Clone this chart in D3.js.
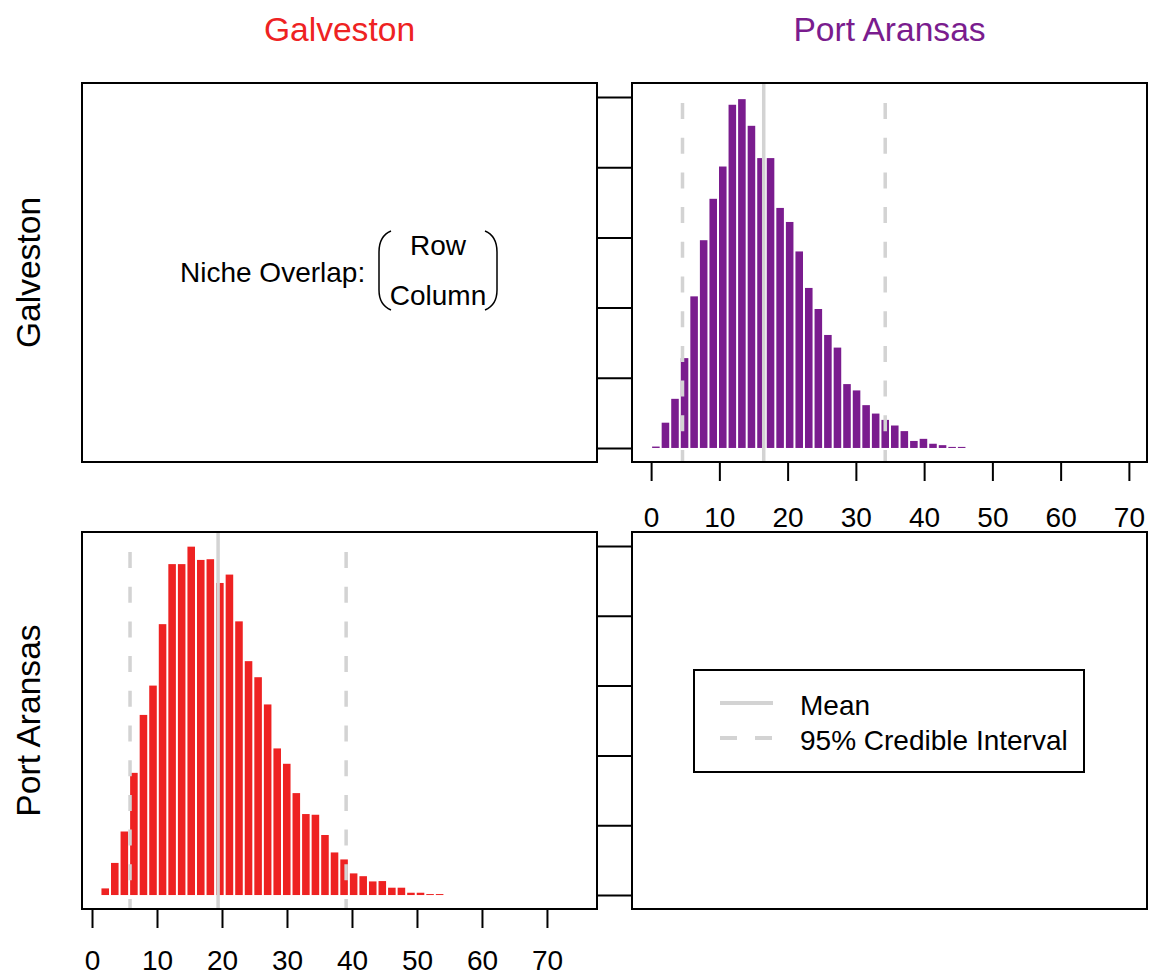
<!DOCTYPE html>
<html>
<head>
<meta charset="utf-8">
<script src="https://cdn.jsdelivr.net/npm/d3@7"></script>
<style>
  body { margin: 0; background: #fff; }
  text { font-family: "Liberation Sans", Arial, sans-serif; }
</style>
</head>
<body>
<svg id="chart" width="1155" height="975"></svg>
<script>
// data
const siteNames = ['Galveston', 'Port Aransas'];
const xTicks = [0, 10, 20, 30, 40, 50, 60, 70];
const yTicks = [0, 100, 200, 300, 400, 500];
const legendLabels = ['Mean', '95% Credible Interval'];

// Galveston row / Port Aransas column (top right, purple)
const paBreakStart = 0;
const paBinWidth = 1.4;
const paCounts = [2, 36, 70, 128, 216, 296, 355, 401, 489, 497, 459, 413, 413,
  342, 322, 280, 228, 198, 161, 143, 91, 82, 61, 49, 40, 32, 24, 10, 13, 6, 4, 1.5, 1.5];
const paMean = 16.5;
const paInterval = [4.6, 34.3];

// Port Aransas row / Galveston column (bottom left, red)
const gvBreakStart = 1.3;
const gvBinWidth = 1.47;
const gvCounts = [9.5, 46, 91, 175, 258, 300, 388, 474, 474, 499, 480, 481, 447,
  459, 392, 335, 312, 273, 210, 188, 146, 116, 115, 86, 61, 51, 31, 27, 19.5, 20,
  10.5, 10.5, 3.3, 3.3, 1.4, 1.4];
const gvMean = 19.4;
const gvInterval = [5.85, 39.1];

const colors = {
  'galveston': '#ee2222',
  'aransas': '#7a1c8e',
  'line': '#d3d3d3'
};

let svg = d3.select('#chart');

// panels
let panels = {
  topLeft: {x0: 82, x1: 597, y0: 83, y1: 462},
  topRight: {x0: 632, x1: 1147, y0: 83, y1: 462},
  bottomLeft: {x0: 82, x1: 597, y0: 532, y1: 909},
  bottomRight: {x0: 632, x1: 1147, y0: 532, y1: 909}
};

let xTR = d3.scaleLinear().domain([-2.8, 72.8]).range([panels.topRight.x0, panels.topRight.x1 + 1]);
let yTR = d3.scaleLinear().domain([-20, 520]).range([panels.topRight.y1, panels.topRight.y0]);
let xBL = d3.scaleLinear().domain([-1.54, 77.7]).range([panels.bottomLeft.x0, panels.bottomLeft.x1]);
let yBL = d3.scaleLinear().domain([-20, 520]).range([panels.bottomLeft.y1, panels.bottomLeft.y0]);

function makeHist(counts, start, width) {
  return counts.map(function(c, i) {
    return {x0: start + i * width, x1: start + (i + 1) * width, count: c};
  });
}

function drawHist(bins, x, y, color) {
  svg.append('g').selectAll('rect')
    .data(bins)
    .enter().append('rect')
      .attr('x', function(d) { return x(d.x0) + 1; })
      .attr('width', function(d) { return x(d.x1) - x(d.x0) - 2; })
      .attr('y', function(d) { return y(d.count); })
      .attr('height', function(d) { return y(0) - y(d.count); })
      .attr('fill', color);
}

function drawLines(p, x, mean, interval) {
  svg.append('line')
    .attr('x1', x(mean)).attr('x2', x(mean))
    .attr('y1', p.y0).attr('y2', p.y1)
    .attr('stroke', colors['line'])
    .attr('stroke-width', 3.5);
  for (let v of interval) {
    svg.append('line')
      .attr('x1', x(v)).attr('x2', x(v))
      .attr('y1', p.y0 + 20).attr('y2', p.y1)
      .attr('stroke', colors['line'])
      .attr('stroke-width', 3.5)
      .attr('stroke-dasharray', '16,18.7');
  }
}

function drawXAxis(p, x, pad) {
  let ax = svg.append('g')
    .attr('transform', 'translate(0,' + (p.y1 + 1) + ')')
    .call(d3.axisBottom(x).tickValues(xTicks).tickSize(18).tickPadding(pad).tickFormat(d3.format('d')));
  ax.select('.domain').remove();
  ax.selectAll('line').attr('stroke', '#000').attr('stroke-width', 2);
  ax.selectAll('text').attr('font-size', 28).attr('fill', '#000')
    .style('font-family', '"Liberation Sans", Arial, sans-serif');
}

function drawYTicks(p, y) {
  let ax = svg.append('g')
    .attr('transform', 'translate(' + p.x0 + ',0)')
    .call(d3.axisLeft(y).tickValues(yTicks).tickSize(p.x0 - panels.topLeft.x1).tickFormat(''));
  ax.select('.domain').remove();
  ax.selectAll('line').attr('stroke', '#000').attr('stroke-width', 2);
}

// histograms
drawHist(makeHist(paCounts, paBreakStart, paBinWidth), xTR, yTR, colors['aransas']);
drawLines(panels.topRight, xTR, paMean, paInterval);
drawHist(makeHist(gvCounts, gvBreakStart, gvBinWidth), xBL, yBL, colors['galveston']);
drawLines(panels.bottomLeft, xBL, gvMean, gvInterval);

// boxes
for (let key in panels) {
  let p = panels[key];
  svg.append('rect')
    .attr('x', p.x0).attr('y', p.y0)
    .attr('width', p.x1 - p.x0).attr('height', p.y1 - p.y0)
    .attr('fill', 'none')
    .attr('stroke', '#000')
    .attr('stroke-width', 2);
}

drawXAxis(panels.topRight, xTR, 26);
drawXAxis(panels.bottomLeft, xBL, 22);
drawYTicks(panels.topRight, yTR);
drawYTicks(panels.bottomRight, yBL);

// column titles
svg.append('text')
  .text(siteNames[0])
  .attr('x', (panels.topLeft.x0 + panels.topLeft.x1) / 2).attr('y', 41)
  .attr('text-anchor', 'middle').attr('font-size', 33.6)
  .attr('fill', colors['galveston']);
svg.append('text')
  .text(siteNames[1])
  .attr('x', (panels.topRight.x0 + panels.topRight.x1) / 2).attr('y', 41)
  .attr('text-anchor', 'middle').attr('font-size', 33.6)
  .attr('fill', colors['aransas']);

// row labels
let rowCenters = [(panels.topLeft.y0 + panels.topLeft.y1) / 2, (panels.bottomLeft.y0 + panels.bottomLeft.y1) / 2];
siteNames.forEach(function(name, i) {
  svg.append('text')
    .text(name)
    .attr('transform', 'translate(40,' + rowCenters[i] + ') rotate(-90)')
    .attr('text-anchor', 'middle').attr('font-size', 33.6)
    .attr('fill', '#000');
});

// niche overlap note in top left
svg.append('text')
  .text('Niche Overlap:')
  .attr('x', 180).attr('y', 282)
  .attr('font-size', 28);
svg.append('text')
  .text('Row')
  .attr('x', 438).attr('y', 255)
  .attr('text-anchor', 'middle').attr('font-size', 28);
svg.append('text')
  .text('Column')
  .attr('x', 438).attr('y', 305)
  .attr('text-anchor', 'middle').attr('font-size', 28);
svg.append('path')
  .attr('d', 'M391,231 Q379,236 379,252 L379,290 Q379,305 391,310')
  .attr('fill', 'none').attr('stroke', '#000').attr('stroke-width', 1.5);
svg.append('path')
  .attr('d', 'M485,231 Q497,236 497,252 L497,290 Q497,305 485,310')
  .attr('fill', 'none').attr('stroke', '#000').attr('stroke-width', 1.5);

// legend
let legendX = 694, legendY = 670;
svg.append('rect')
  .attr('x', legendX).attr('y', legendY)
  .attr('width', 390).attr('height', 102)
  .attr('fill', 'none').attr('stroke', '#000').attr('stroke-width', 2);
legendLabels.forEach(function(label, i) {
  let yy = legendY + 33 + i * 35;
  svg.append('line')
    .attr('x1', legendX + 26).attr('x2', legendX + 79)
    .attr('y1', yy).attr('y2', yy)
    .attr('stroke', colors['line'])
    .attr('stroke-width', 4)
    .attr('stroke-dasharray', i == 0 ? null : '17,18');
  svg.append('text')
    .text(label)
    .attr('x', legendX + 106).attr('y', yy + 12)
    .attr('font-size', 28);
});
</script>
</body>
</html>
